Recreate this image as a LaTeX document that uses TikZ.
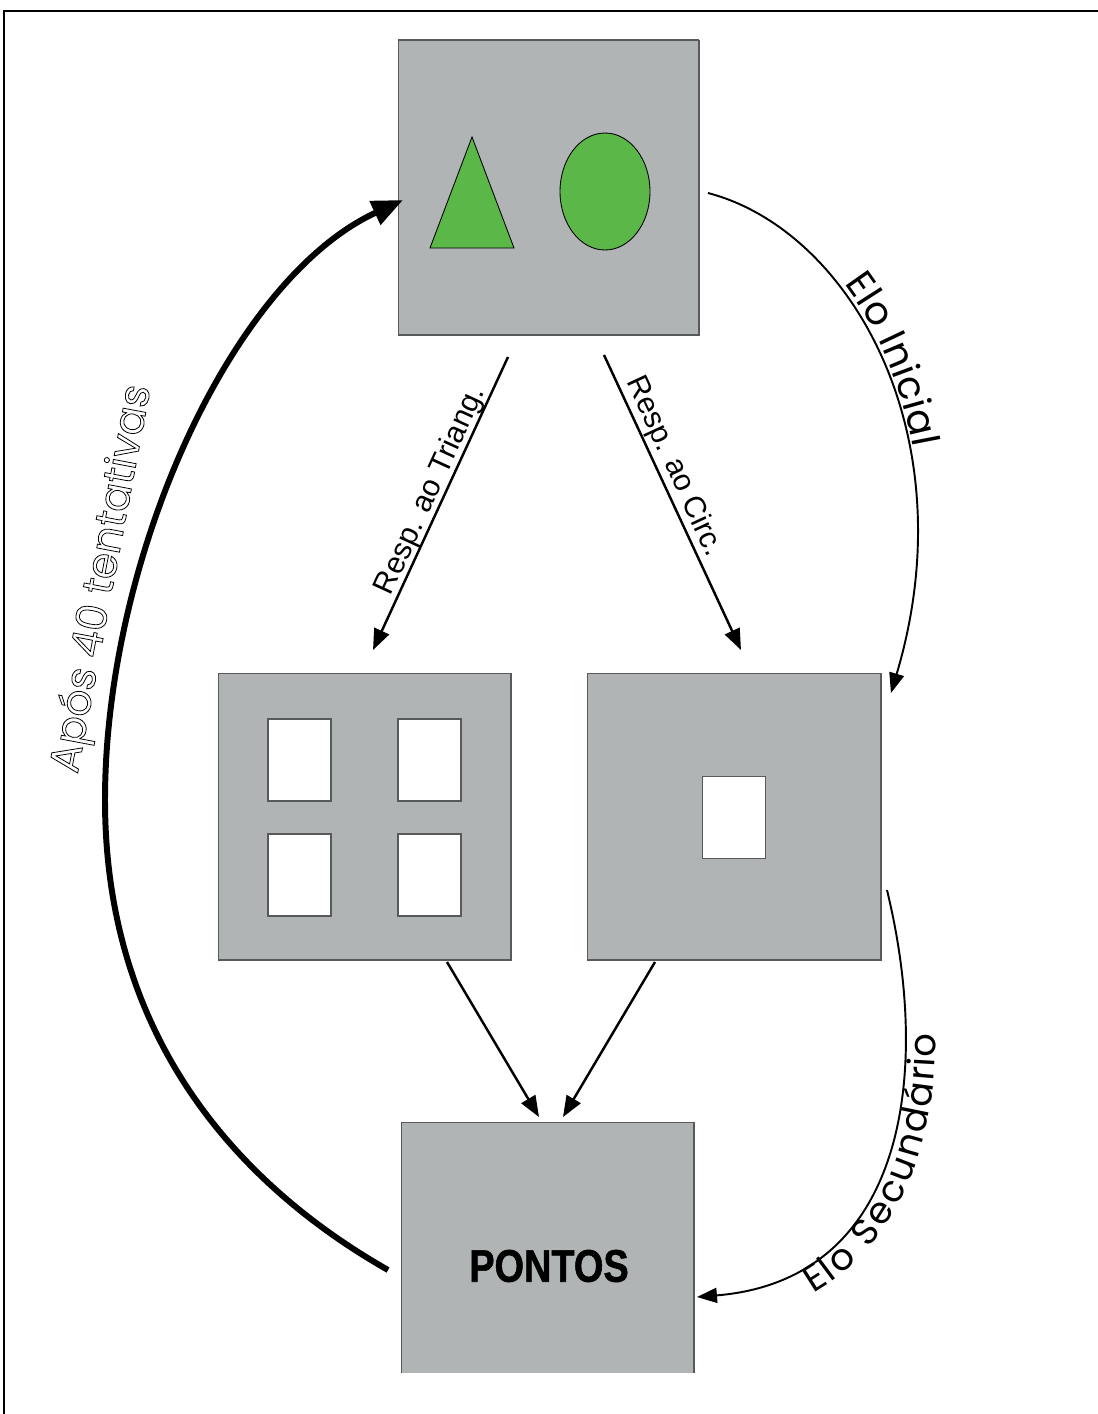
\documentclass[tikz,border=0pt]{standalone}
\usepackage{fontspec}
\usetikzlibrary{arrows.meta,calc,decorations.text}
\setmainfont{Liberation Sans}
\newfontfamily\geofont{Poppins}
\newfontfamily\narrowfont[FakeStretch=0.83, BoldFeatures={FakeBold=1.2}]{Liberation Sans}
\definecolor{panel}{RGB}{177,180,181}
\definecolor{edge}{RGB}{88,89,91}
\definecolor{leaf}{RGB}{91,184,72}
% outlined (stroked, unfilled) glyphs
\newcommand\outlinetext[1]{\special{pdf:literal direct 1 Tr 0.45 w}#1\special{pdf:literal direct 0 Tr}}

\tikzset{
  panelbox/.style={fill=panel, draw=edge, line width=0.6pt, inner sep=0pt, outer sep=0pt},
  window/.style={fill=white, draw=edge, line width=0.6pt, inner sep=0pt,
                 minimum width=1.26cm, minimum height=1.64cm},
  figure/.style={fill=leaf, draw=black, line width=0.5pt},
  link/.style={line width=1.4pt, -{Triangle[length=0.42cm,width=0.32cm]}},
  curvelink/.style={line width=1.1pt, -{Triangle[length=0.4cm,width=0.3cm]}},
  returnlink/.style={line width=3.4pt, -{Triangle[length=0.62cm,width=0.5cm]}},
  resplabel/.style={font=\fontsize{17.2}{19}\selectfont, inner sep=0pt, anchor=base},
  frameline/.style={line width=1.1pt}
}

\begin{document}
\begin{tikzpicture}[x=0.02cm, y=-0.02cm]
\useasboundingbox (0,0) rectangle (1098,1414);

% outer frame (top and left sides)
\draw[frameline] (4,1414) -- (4,11) -- (1098,11);

% stimulus panel with triangle and circle
\node[panelbox, minimum width=6.02cm, minimum height=5.9cm] (stim) at (548.5,187.5) {};
\draw[draw=edge, line width=1.2pt] (stim.north west) -- (stim.north east);
\draw[figure] (430,248) -- (472,137) -- (514,248) -- cycle;
\draw[figure] (605,191.5) ellipse [x radius=0.9cm, y radius=1.17cm];

% panel with four windows
\node[panelbox, minimum width=5.86cm, minimum height=5.74cm] (quad) at (364.5,816.5) {};
\node[window] (w1) at (299.5,760) {};
\node[window] (w2) at (429.5,760) {};
\node[window] (w3) at (299.5,875) {};
\node[window] (w4) at (429.5,875) {};

% panel with a single window
\node[panelbox, minimum width=5.88cm, minimum height=5.74cm] (single) at (734,816.5) {};
\node[window] (w5) at (734,817.5) {};

% points panel, open at the bottom
\node[fill=panel, inner sep=0pt, outer sep=0pt, minimum width=5.86cm, minimum height=5.02cm] (pts) at (547.5,1247.5) {};
\draw[draw=edge, line width=0.6pt] (pts.south west) -- (pts.north west) -- (pts.north east) -- (pts.south east);
\node[font=\narrowfont\bfseries\fontsize{26}{28}\selectfont, inner sep=0pt] (ptslabel) at (549,1266) {PONTOS};

% responses
\draw[link] ($(stim.south)+(-40.5,22)$) -- ($(quad.north)+(8.5,-23)$);
\draw[link] ($(stim.south)+(55.5,20)$) -- ($(single.north)+(7,-23)$);
\node[resplabel, rotate=65.3] (lt) at (438,494) {Resp. ao Triang.};
\node[resplabel, rotate=-65.1] (lc) at (667,470) {Resp. ao Circ.};

% both outcome panels lead to the points panel
\draw[link] ($(quad.south)+(82.5,2)$) -- ($(pts.north)+(-8.5,-5)$);
\draw[link] ($(single.south)+(-79,2)$) -- ($(pts.north)+(15.5,-5)$);

% initial link
\draw[curvelink, postaction={decorate, decoration={text along path,
    text={|\geofont\fontsize{22}{24}\selectfont|Elo Inicial},
    raise=3pt, text align={left indent=3.3cm}}}]
  ($(stim.east)+(9,5.5)$) .. controls (850,230) and (968,435) .. ($(single.north east)+(10,20)$);

% secondary link
\draw[curvelink, postaction={decorate, decoration={text along path, reverse path,
    text={|\geofont\fontsize{21}{23}\selectfont|Elo Secundário},
    raise=-17pt, text align={left indent=2.1cm}}}]
  ($(single.east)+(6,73.5)$) .. controls (932,1075) and (905,1280) .. ($(pts.east)+(3,49.5)$);

% return after 40 trials
\draw[returnlink] ($(pts.west)+(-13,22.5)$) .. controls (230,1180) and (105,1030) .. (105,800)
  .. controls (105,560) and (230,280) .. ($(stim.west)+(5,12.5)$);
\node[font=\geofont\fontsize{24}{26}\selectfont, inner sep=0pt, anchor=base, rotate=79.3] (ret)
  at (114,581) {\outlinetext{Após 40 tentativas}};
\end{tikzpicture}
\end{document}
